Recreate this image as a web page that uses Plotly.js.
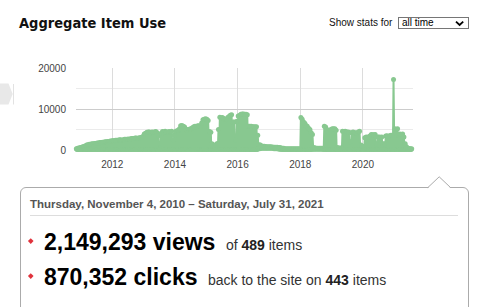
<!DOCTYPE html>
<html><head><meta charset="utf-8">
<script src="https://cdn.plot.ly/plotly-3.0.1.min.js"></script>
<style>
html,body{margin:0;padding:0;background:#fff;}
body{width:485px;height:307px;overflow:hidden;position:relative;font-family:"Liberation Sans",Arial,sans-serif;}
#chart{position:absolute;left:0;top:0;width:485px;height:185px;}
.abs{position:absolute;white-space:nowrap;}
#title{left:19px;top:16px;font:bold 14.5px/1 "DejaVu Sans Condensed","DejaVu Sans",sans-serif;color:#111;}
#showlbl{left:329px;top:18.2px;font-size:10px;line-height:1;color:#111;}
#sel{left:398px;top:17px;width:71px;height:12px;border:1px solid #767676;box-sizing:border-box;background:#fff;}
#seltxt{left:402px;top:17.5px;font-size:10px;line-height:1;color:#000;}
#panel{left:20px;top:187px;width:449px;height:160px;border:1px solid #ababab;border-radius:6px;box-sizing:border-box;background:#fff;}
#daterange{left:30px;top:199.3px;font-weight:bold;font-size:11.5px;line-height:1;color:#555;}
#sep{left:30px;top:215px;width:428px;height:1px;background:#dddddd;}
.row{left:44px;font-size:23px;line-height:23px;font-weight:bold;color:#000;}
.small{font-size:14px;font-weight:normal;color:#333;margin-left:10.5px;}
.small b{font-weight:bold;color:#222;}
.bullet{width:3.5px;height:3.5px;background:#e0323c;transform:rotate(45deg);}
</style>
</head><body>
<div id="chart"></div>
<div id="title" class="abs">Aggregate Item Use</div>
<div id="showlbl" class="abs">Show stats for</div>
<div id="sel" class="abs"></div>
<div id="seltxt" class="abs">all time</div>
<div id="panel" class="abs"></div>
<div id="daterange" class="abs">Thursday, November 4, 2010 – Saturday, July 31, 2021</div>
<div id="sep" class="abs"></div>
<div class="abs bullet" style="left:28.5px;top:238.5px"></div>
<div class="abs row" style="top:230.5px">2,149,293 views<span class="small">of <b>489</b> items</span></div>
<div class="abs bullet" style="left:28.5px;top:273.5px"></div>
<div class="abs row" style="top:265.5px">870,352 clicks<span class="small">back to the site on <b>443</b> items</span></div>
<svg class="abs" style="left:0;top:0;pointer-events:none" width="485" height="307">
  <path d="M0,83.5 L8.5,83.5 L12.7,94 L8.5,104.5 L0,104.5 Z" fill="#e8e8e8"/>
  <line x1="13.5" y1="84" x2="13.5" y2="104.5" stroke="#e2e2e2" stroke-width="1"/>
  <polyline points="456,21.6 459.6,25 463.2,21.6" fill="none" stroke="#000" stroke-width="1.8"/>
  <polygon points="427.8,188.3 439.2,177 450.6,188.3" fill="#fff"/>
  <polyline points="427.8,187.6 439.2,176.8 450.6,187.6" fill="none" stroke="#ababab" stroke-width="1"/>
</svg>
<script>
// Half-month peak views, Nov 2010 .. Jul 2021 (two values per month)
const startYear = 2010, startMonth = 11;
const halfMonthPeak = [
  // 2010 Nov-Dec
  300, 400, 500, 600,
  // 2011
  700, 800, 900, 1000, 1200, 1300, 1400, 1400, 1500, 1500, 1600, 1600,
  1700, 1700, 1800, 1800, 1900, 1900, 2000, 2000, 2100, 2000, 2200, 2200,
  // 2012
  2300, 2200, 2400, 2400, 2400, 2500, 2500, 2400, 2500, 2600, 2600, 2600,
  2700, 2600, 2800, 2800, 2800, 2900, 2900, 2800, 3000, 3000, 3100, 3300,
  // 2013
  3900, 4100, 4300, 4400, 4400, 4200, 4400, 4300, 4400, 4500, 4200, 3500,
  400, 4000, 4500, 4300, 4600, 4400, 4300, 4500, 4400, 4600, 2500, 3600,
  // 2014
  4500, 4700, 4800, 5200, 5900, 6000, 5800, 5600, 5100, 4900, 5000, 5100,
  5200, 5400, 5700, 5800, 5700, 5900, 5900, 5800, 6600, 7400, 7500, 7600,
  // 2015
  7500, 7200, 4500, 4300, 1500, 1300, 900, 1200, 1600, 5000, 8000, 7800,
  7900, 7700, 7500, 7400, 7900, 8200, 8500, 8600, 6800, 6800, 2500, 7000,
  // 2016
  8300, 8400, 8700, 8800, 8800, 8700, 8700, 8600, 5800, 5800, 5800, 5700,
  5700, 5700, 5700, 3600, 1300, 1200, 900, 900, 900, 850, 800, 800,
  // 2017
  800, 800, 750, 700, 700, 700, 650, 600, 600, 500, 400, 400,
  300, 300, 300, 300, 300, 300, 300, 300, 300, 300, 300, 300,
  // 2018
  7900, 7500, 6800, 6500, 6000, 5800, 5300, 5000, 4200, 3800, 600, 500,
  400, 400, 400, 400, 400, 400, 5800, 5600, 5000, 4400, 4400, 5000,
  // 2019
  5200, 5200, 5200, 4800, 600, 500, 500, 500, 4600, 4500, 4600, 4400,
  4400, 4300, 2000, 4200, 4400, 4200, 4200, 4100, 4400, 4600, 1200, 1000,
  // 2020
  800, 3000, 3200, 3100, 3200, 3400, 3800, 3700, 3700, 3800, 1500, 3200,
  3200, 3100, 3200, 1500, 1500, 3400, 3500, 3300, 3500, 3600, 3600, 17200,
  // 2021 Jan-Jul
  5200, 5000, 5200, 3600, 3900, 3800, 3900, 3200, 1500, 800, 400, 350,
  300, 300
];
// Monthly trough views (the daily low within each month)
const monthlyLow = [
  100, 100,
  100, 100, 100, 100, 100, 100, 100, 100, 100, 100, 100, 100,
  100, 100, 100, 100, 100, 100, 100, 100, 100, 100, 100, 100,
  100, 100, 100, 100, 100, 100, 100, 100, 100, 100, 100, 100,
  100, 100, 100, 100, 100, 100, 100, 100, 100, 100, 100, 100,
  100, 100, 100, 100, 100, 100, 100, 100, 100, 100, 100, 100,
  100, 100, 100, 100, 100, 100, 100, 100, 300, 400, 400, 400,
  400, 400, 300, 300, 200, 150, 100, 100, 100, 100, 100, 100,
  100, 100, 100, 100, 100, 200, 200, 200, 200, 100, 100, 100,
  100, 100, 100, 100, 100, 100, 100, 100, 100, 100, 100, 100,
  100, 100, 100, 100, 100, 100, 100, 100, 100, 100, 100, 100,
  100, 100, 100, 100, 100, 150, 150
];
const xRange = ['2010-11-04', '2021-08-07'];
const green = '#88c890';

const xs = [], ys = [];
for (let i = 0; i < monthlyLow.length; i++) {
  const m0 = startMonth - 1 + i;
  const y = startYear + Math.floor(m0 / 12);
  const m = (m0 % 12) + 1;
  const mm = (m < 10 ? '0' : '') + m;
  xs.push(y + '-' + mm + '-01'); ys.push(monthlyLow[i]);
  xs.push(y + '-' + mm + '-08'); ys.push(halfMonthPeak[2 * i]);
  xs.push(y + '-' + mm + '-16'); ys.push(monthlyLow[i]);
  xs.push(y + '-' + mm + '-23'); ys.push(halfMonthPeak[2 * i + 1]);
}

const trace = {
  type: 'scatter', mode: 'lines+markers', x: xs, y: ys,
  line: {color: green, width: 2}, marker: {color: green, size: 5},
  cliponaxis: false, hoverinfo: 'skip'
};
const layout = {
  width: 485, height: 185,
  margin: {l: 76, r: 72, t: 68, b: 34.5, pad: 0},
  paper_bgcolor: 'rgba(0,0,0,0)', plot_bgcolor: 'rgba(0,0,0,0)',
  showlegend: false,
  font: {family: '"Liberation Sans", Arial, sans-serif', size: 10, color: '#444'},
  xaxis: {type: 'date', range: xRange, tick0: '2012-01-01', dtick: 'M24', tickformat: '%Y',
    showgrid: true, gridcolor: '#dcdcdc', zeroline: false, showline: false,
    ticks: 'outside', ticklen: 5, tickcolor: 'rgba(0,0,0,0)', tickfont: {size: 10, color: '#444'}},
  yaxis: {range: [0, 20000], tick0: 0, dtick: 10000, tickformat: 'd',
    showgrid: true, gridcolor: '#cccccc', zeroline: false, showline: false,
    ticks: 'outside', ticklen: 7, tickcolor: 'rgba(0,0,0,0)', tickfont: {size: 10, color: '#444'},
    minor: {dtick: 5000, showgrid: true, gridcolor: '#ebebeb', ticks: ''}}
};
Plotly.newPlot('chart', [trace], layout, {displayModeBar: false, staticPlot: true});
</script>
</body></html>
